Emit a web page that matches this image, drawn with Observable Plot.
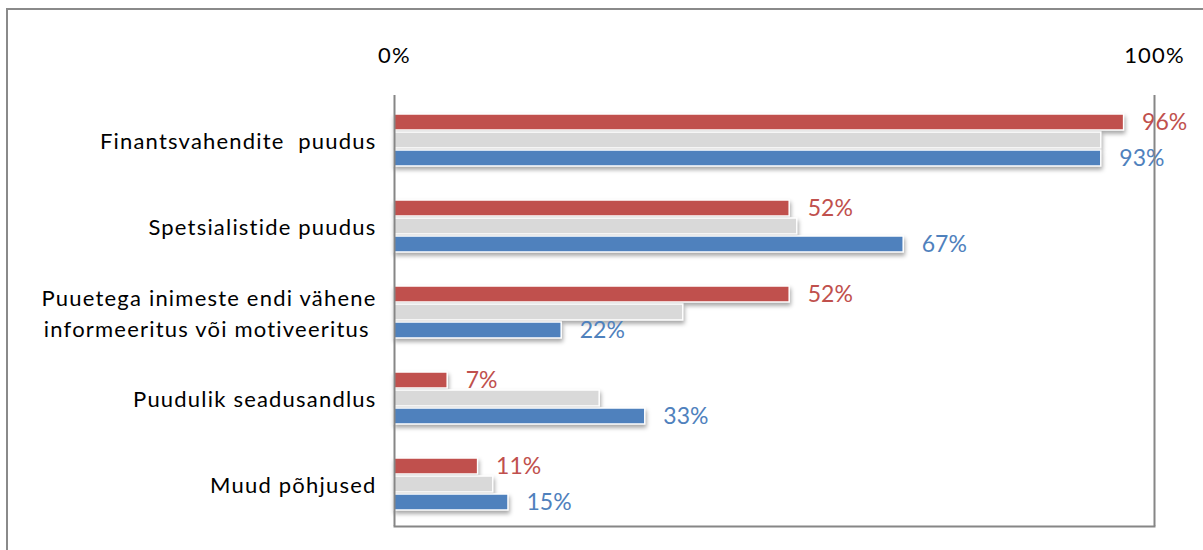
<!DOCTYPE html>
<html><head><meta charset="utf-8">
<script src="https://cdn.jsdelivr.net/npm/d3@7"></script>
<script src="https://cdn.jsdelivr.net/npm/@observablehq/plot@0.6"></script>
<style>
body{margin:0;background:#fff;overflow:hidden;}
#wrap{position:relative;width:1203px;height:550px;}
#border{position:absolute;left:6px;top:8px;width:1230px;height:580px;border:2px solid #8a8a8a;pointer-events:none;}
g[aria-label="bar"]{filter:drop-shadow(1px 3px 2px rgba(0,0,0,0.35));}
g[aria-label="y-axis tick label"] text, g[aria-label="x-axis tick label"] text{letter-spacing:1.2px;}
</style></head><body><div id="wrap"><div id="border"></div></div>
<script>
const categories = [
  "Finantsvahendite  puudus",
  "Spetsialistide puudus",
  "Puuetega inimeste endi vähene\ninformeeritus või motiveeritus ",
  "Puudulik seadusandlus",
  "Muud põhjused"
];
const redValues  = [96, 52, 52, 7, 11];
const grayValues = [93, 53, 38, 27, 13];
const blueValues = [93, 67, 22, 33, 15];
const xTicks = [0, 100];

const rows = categories.map((cat, i) => ({cat, red: redValues[i], gray: grayValues[i], blue: blueValues[i]}));

const RED = "#C0504D", GRAY = "#D9D9D9", BLUE = "#4F81BD", AXIS = "#868686";

const chart = Plot.plot({
  width: 1203,
  height: 550,
  marginLeft: 394,
  marginRight: 49,
  marginTop: 95,
  marginBottom: 24,
  style: {fontFamily: "Lato, 'Open Sans', sans-serif", fontSize: "21px", color: "#000", background: "transparent"},
  x: {domain: [0, 100]},
  y: {domain: categories, padding: 0},
  marks: [
    Plot.barX(rows, {x: "red", y: "cat", fill: RED, stroke: "white", strokeWidth: 1.5, insetTop: 18, insetBottom: 52}),
    Plot.barX(rows, {x: "gray", y: "cat", fill: GRAY, stroke: "white", strokeWidth: 1.5, insetTop: 36, insetBottom: 34}),
    Plot.barX(rows, {x: "blue", y: "cat", fill: BLUE, stroke: "white", strokeWidth: 1.5, insetTop: 54, insetBottom: 16}),
    Plot.text(rows, {x: "red", y: "cat", text: d => d.red + "%", dx: 18, dy: -17, textAnchor: "start", fill: RED, fontSize: 23}),
    Plot.text(rows, {x: "blue", y: "cat", text: d => d.blue + "%", dx: 18, dy: 19, textAnchor: "start", fill: BLUE, fontSize: 23}),
    Plot.ruleX(xTicks, {stroke: AXIS, strokeWidth: 2}),
    Plot.frame({anchor: "bottom", stroke: AXIS, strokeWidth: 2}),
    Plot.axisX({anchor: "top", ticks: xTicks, tickFormat: d => d + "%", tickSize: 0, tickPadding: 33, label: null, fontSize: 22}),
    Plot.axisY({anchor: "left", tickSize: 0, tickPadding: 18, label: null, lineHeight: 1.4, fontSize: 22})
  ]
});
document.getElementById("wrap").prepend(chart);
</script>
</body></html>
